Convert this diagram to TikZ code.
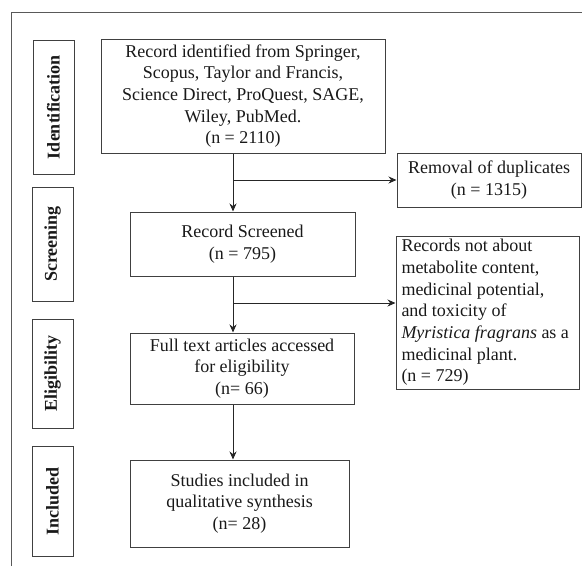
\documentclass[tikz,border=0pt]{standalone}
\usepackage{fontspec}
\setmainfont{Liberation Serif}
\usetikzlibrary{arrows.meta,calc}
\begin{document}
\begin{tikzpicture}[x=1pt,y=-1pt,
  box/.style={draw=black!75,line width=1pt,inner sep=0pt,align=center,
    font=\fontsize{18}{21.7}\selectfont,text=black!90},
  side/.style={draw=black!75,line width=1pt,inner sep=0pt,minimum width=41,
    font=\fontsize{18}{21.7}\selectfont\bfseries,text=black!90},
  conn/.style={draw=black!85,line width=1pt},
  arr/.style={conn,-{Stealth[length=8pt,width=7pt]}}]
\useasboundingbox (0,0) rectangle (582,566);
% outer frame (cropped)
\draw[black!65,line width=1pt] (11,566) -- (11,12) -- (582,12);
% side labels
\node[side,minimum height=134] (sid) at (53.5,107) {\rotatebox{90}{Identification}};
\node[side,minimum height=114] (ssc) at (52.5,244) {\rotatebox{90}{Screening}};
\node[side,minimum height=109] (sel) at (52.5,373.5) {\rotatebox{90}{Eligibility}};
\node[side,minimum height=110] (sin) at (52.5,501) {\rotatebox{90}{Included}};
% main boxes
\node[box,minimum width=284,minimum height=114] (id) at (243,96)
  {Record identified from Springer,\\Scopus, Taylor and Francis,\\Science Direct, ProQuest, SAGE,\\Wiley, PubMed.\\(n = 2110)};
\node[box,minimum width=184,minimum height=54] (rem) at (489,180)
  {Removal of duplicates\\(n = 1315)};
\node[box,minimum width=225,minimum height=64] (scr) at (242.5,244)
  {Record Screened\\(n = 795)};
\node[box,minimum width=183,minimum height=153,align=left] (rec) at (487.5,312.5)
  {\begin{minipage}{172pt}\fontsize{18}{21.7}\selectfont Records not about\\metabolite content,\\medicinal potential,\\and toxicity of\\\textit{Myristica fragrans} as a\\medicinal plant.\\(n = 729)\end{minipage}};
\node[box,minimum width=224,minimum height=71] (ful) at (242,368.5)
  {Full text articles accessed\\for eligibility\\(n= 66)};
\node[box,minimum width=219,minimum height=87] (stu) at (239.5,503.5)
  {Studies included in\\qualitative synthesis\\(n= 28)};
% spine
\coordinate (sp) at (233,0);
\draw[arr] (id.south -| sp) -- (scr.north -| sp);
\draw[arr] (rem.west -| sp) -- (rem.west);
\draw[arr] (scr.south -| sp) -- (ful.north -| sp);
\coordinate (rb) at ($(rec.west)+(0,-9.5)$);
\draw[arr] (rb -| sp) -- (rb);
\draw[arr] (ful.south -| sp) -- (stu.north -| sp);
\end{tikzpicture}
\end{document}
